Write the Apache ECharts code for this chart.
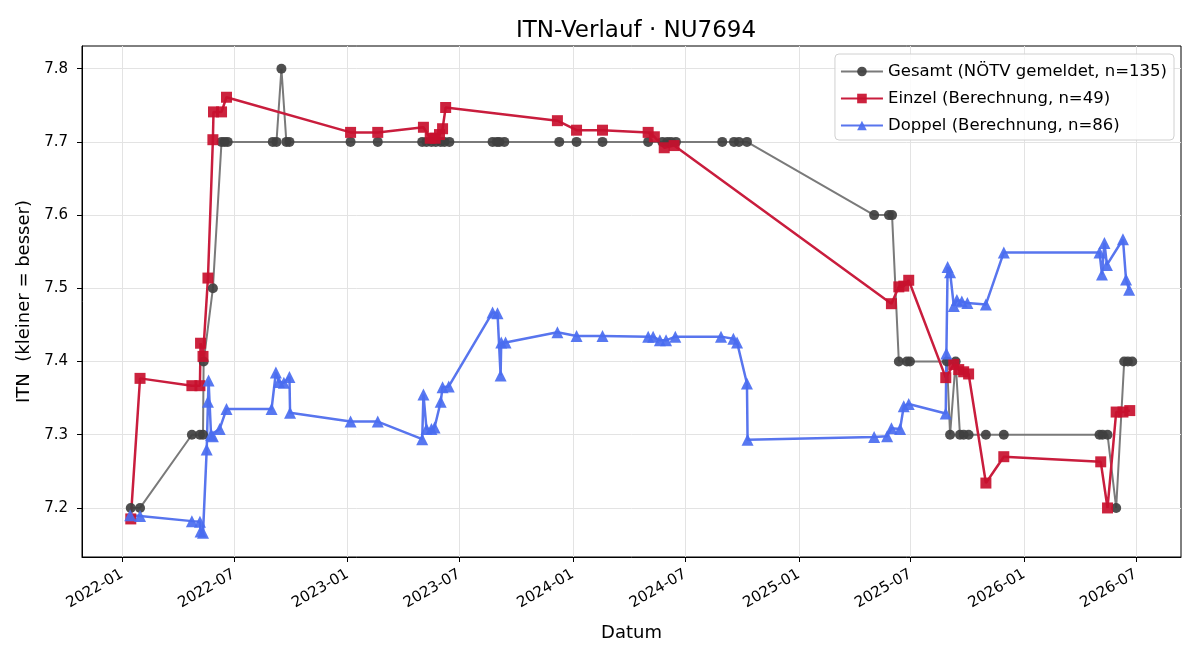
<!DOCTYPE html>
<html>
<head>
<meta charset="utf-8">
<title>ITN-Verlauf</title>
<script src="https://cdn.jsdelivr.net/npm/echarts@6/dist/echarts.min.js"></script>
<style>
  html, body { margin: 0; padding: 0; background: #fff; }
  #chart { width: 1200px; height: 660px; }
</style>
</head>
<body>
<div id="chart"></div>
<script>
// tick labels
const xTicks = ['2022-01-01', '2022-07-01', '2023-01-01', '2023-07-01', '2024-01-01',
  '2024-07-01', '2025-01-01', '2025-07-01', '2026-01-01', '2026-07-01']
const yTicks = [7.2, 7.3, 7.4, 7.5, 7.6, 7.7, 7.8]

const seriesNames = ['Gesamt (NÖTV gemeldet, n=135)', 'Einzel (Berechnung, n=49)', 'Doppel (Berechnung, n=86)']

// reported overall ITN
const gesamt = [
  ['2022-01-15', 7.2], ['2022-01-30', 7.2], ['2022-04-24', 7.3], ['2022-05-07', 7.3],
  ['2022-05-12', 7.3], ['2022-05-13', 7.4], ['2022-05-28', 7.5], ['2022-06-11', 7.7],
  ['2022-06-16', 7.7], ['2022-06-21', 7.7], ['2022-09-02', 7.7], ['2022-09-08', 7.7],
  ['2022-09-16', 7.8], ['2022-09-24', 7.7], ['2022-09-29', 7.7], ['2023-01-06', 7.7],
  ['2023-02-19', 7.7], ['2023-05-02', 7.7], ['2023-05-09', 7.7], ['2023-05-17', 7.7],
  ['2023-05-24', 7.7], ['2023-06-01', 7.7], ['2023-06-07', 7.7], ['2023-06-15', 7.7],
  ['2023-08-24', 7.7], ['2023-08-31', 7.7], ['2023-09-04', 7.7], ['2023-09-12', 7.7],
  ['2023-12-10', 7.7], ['2024-01-07', 7.7], ['2024-02-18', 7.7], ['2024-05-02', 7.7],
  ['2024-05-25', 7.7], ['2024-06-02', 7.7], ['2024-06-08', 7.7], ['2024-06-16', 7.7],
  ['2024-08-30', 7.7], ['2024-09-18', 7.7], ['2024-09-26', 7.7], ['2024-10-09', 7.7],
  ['2025-05-03', 7.6], ['2025-05-27', 7.6], ['2025-06-01', 7.6], ['2025-06-12', 7.4],
  ['2025-06-25', 7.4], ['2025-06-30', 7.4], ['2025-08-29', 7.4], ['2025-09-03', 7.3],
  ['2025-09-12', 7.4], ['2025-09-19', 7.3], ['2025-09-25', 7.3], ['2025-10-03', 7.3],
  ['2025-10-31', 7.3], ['2025-11-29', 7.3], ['2026-05-03', 7.3], ['2026-05-08', 7.3],
  ['2026-05-16', 7.3], ['2026-05-30', 7.2], ['2026-06-12', 7.4], ['2026-06-18', 7.4],
  ['2026-06-25', 7.4]
]

// computed singles ITN
const einzel = [
  ['2022-01-15', 7.185], ['2022-01-30', 7.377], ['2022-04-24', 7.367], ['2022-05-07', 7.367],
  ['2022-05-08', 7.425], ['2022-05-12', 7.407], ['2022-05-20', 7.514], ['2022-05-28', 7.703],
  ['2022-05-29', 7.741], ['2022-06-11', 7.741], ['2022-06-19', 7.761], ['2023-01-06', 7.713],
  ['2023-02-19', 7.713], ['2023-05-04', 7.72], ['2023-05-15', 7.705], ['2023-05-23', 7.705],
  ['2023-05-30', 7.71], ['2023-06-04', 7.718], ['2023-06-09', 7.747], ['2023-12-07', 7.729],
  ['2024-01-07', 7.716], ['2024-02-18', 7.716], ['2024-05-02', 7.713], ['2024-05-12', 7.707],
  ['2024-05-28', 7.692], ['2024-06-13', 7.695], ['2025-05-31', 7.479], ['2025-06-12', 7.502],
  ['2025-06-20', 7.503], ['2025-06-28', 7.511], ['2025-08-27', 7.378], ['2025-09-09', 7.396],
  ['2025-09-17', 7.389], ['2025-09-25', 7.386], ['2025-10-03', 7.383], ['2025-10-31', 7.234],
  ['2025-11-29', 7.27], ['2026-05-05', 7.263], ['2026-05-16', 7.2], ['2026-05-30', 7.331],
  ['2026-06-10', 7.331], ['2026-06-21', 7.333]
]

// computed doubles ITN
const doppel = [
  ['2022-01-14', 7.19], ['2022-01-30', 7.189], ['2022-04-24', 7.182], ['2022-05-07', 7.181],
  ['2022-05-08', 7.168], ['2022-05-12', 7.166], ['2022-05-18', 7.28], ['2022-05-20', 7.345],
  ['2022-05-21', 7.374], ['2022-05-25', 7.3], ['2022-05-28', 7.298], ['2022-06-08', 7.308],
  ['2022-06-19', 7.335], ['2022-08-31', 7.335], ['2022-09-07', 7.385], ['2022-09-12', 7.372],
  ['2022-09-20', 7.371], ['2022-09-29', 7.379], ['2022-09-30', 7.33], ['2023-01-06', 7.318],
  ['2023-02-19', 7.318], ['2023-05-02', 7.294], ['2023-05-04', 7.355], ['2023-05-09', 7.308],
  ['2023-05-17', 7.308], ['2023-05-22', 7.31], ['2023-06-01', 7.345], ['2023-06-04', 7.365],
  ['2023-06-14', 7.366], ['2023-08-24', 7.467], ['2023-09-01', 7.466], ['2023-09-06', 7.381],
  ['2023-09-07', 7.426], ['2023-09-14', 7.426], ['2023-12-07', 7.44], ['2024-01-07', 7.435],
  ['2024-02-18', 7.435], ['2024-05-02', 7.434], ['2024-05-10', 7.434], ['2024-05-21', 7.429],
  ['2024-05-31', 7.429], ['2024-06-15', 7.434], ['2024-08-28', 7.434], ['2024-09-17', 7.431],
  ['2024-09-23', 7.426], ['2024-10-09', 7.37], ['2024-10-10', 7.293], ['2025-05-03', 7.297],
  ['2025-05-24', 7.298], ['2025-05-31', 7.309], ['2025-06-14', 7.308], ['2025-06-20', 7.339],
  ['2025-06-28', 7.342], ['2025-08-27', 7.329], ['2025-08-28', 7.411], ['2025-08-30', 7.529],
  ['2025-09-03', 7.522], ['2025-09-09', 7.476], ['2025-09-14', 7.484], ['2025-09-22', 7.482],
  ['2025-10-01', 7.48], ['2025-10-31', 7.478], ['2025-11-29', 7.549], ['2026-05-03', 7.549],
  ['2026-05-07', 7.519], ['2026-05-11', 7.562], ['2026-05-15', 7.532], ['2026-06-10', 7.567],
  ['2026-06-15', 7.512], ['2026-06-20', 7.498]
]

const font = 'DejaVu Sans'
const parse = s => +echarts.time.parse(s)
const xTickValues = xTicks.map(parse)
const toPoints = rows => rows.map(r => [parse(r[0]), r[1]])

const myChart = echarts.init(document.getElementById('chart'))

function lineSeries (name, data, symbol, size, lineColor, markColor, width) {
  return {
    name: name,
    type: 'line',
    data: toPoints(data),
    symbol: symbol,
    symbolSize: size,
    lineStyle: { color: lineColor, width: width },
    itemStyle: { color: markColor, opacity: 0.92 },
    emphasis: { disabled: true }
  }
}

myChart.setOption({
  animation: false,
  title: {
    text: 'ITN-Verlauf · NU7694',
    left: 631,
    textAlign: 'center',
    top: 15,
    textStyle: { fontFamily: font, fontSize: 23, fontWeight: 'normal', color: '#000' }
  },
  legend: {
    orient: 'vertical',
    right: 26,
    top: 54,
    itemWidth: 42,
    itemHeight: 12,
    itemGap: 10,
    padding: [9, 7, 6, 5],
    borderColor: '#d0d0d0',
    borderWidth: 1,
    borderRadius: 4,
    backgroundColor: 'rgba(255,255,255,0.85)',
    textStyle: { fontFamily: font, fontSize: 16.5, color: '#000' },
    data: seriesNames
  },
  grid: {
    left: 82,
    right: 19,
    top: 46,
    bottom: 103,
    show: true,
    borderColor: '#000',
    borderWidth: 1
  },
  xAxis: {
    type: 'value',
    min: parse('2021-10-28'),
    max: parse('2026-09-12'),
    name: 'Datum',
    nameLocation: 'middle',
    nameGap: 67,
    nameTextStyle: { fontFamily: font, fontSize: 18, color: '#000' },
    axisLine: { lineStyle: { color: '#000' } },
    axisTick: { show: true, customValues: xTickValues, length: 5, lineStyle: { color: '#000' } },
    axisLabel: {
      customValues: xTickValues,
      rotate: 30,
      margin: 16,
      fontFamily: font,
      fontSize: 15,
      color: '#000',
      formatter: v => echarts.time.format(v, '{yyyy}-{MM}', false)
    },
    splitLine: { show: true, lineStyle: { color: '#e3e3e3', width: 1 } }
  },
  yAxis: {
    type: 'value',
    min: 7.133,
    max: 7.831,
    name: 'ITN  (kleiner = besser)',
    nameLocation: 'middle',
    nameGap: 47,
    nameTextStyle: { fontFamily: font, fontSize: 18, color: '#000' },
    axisLine: { show: true, lineStyle: { color: '#000' } },
    axisTick: { show: true, customValues: yTicks, length: 5, lineStyle: { color: '#000' } },
    axisLabel: {
      customValues: yTicks,
      margin: 14,
      fontFamily: font,
      fontSize: 15,
      color: '#000',
      formatter: v => v.toFixed(1)
    },
    splitLine: { show: true, lineStyle: { color: '#e3e3e3', width: 1 } }
  },
  series: [
    lineSeries(seriesNames[0], gesamt, 'circle', 10, '#7a7a7a', '#404040', 2),
    lineSeries(seriesNames[1], einzel, 'rect', 11, '#c91d3d', '#c8102e', 2.5),
    lineSeries(seriesNames[2], doppel, 'triangle', 12, '#5875ee', '#4a6cf0', 2.5)
  ]
})
</script>
</body>
</html>
